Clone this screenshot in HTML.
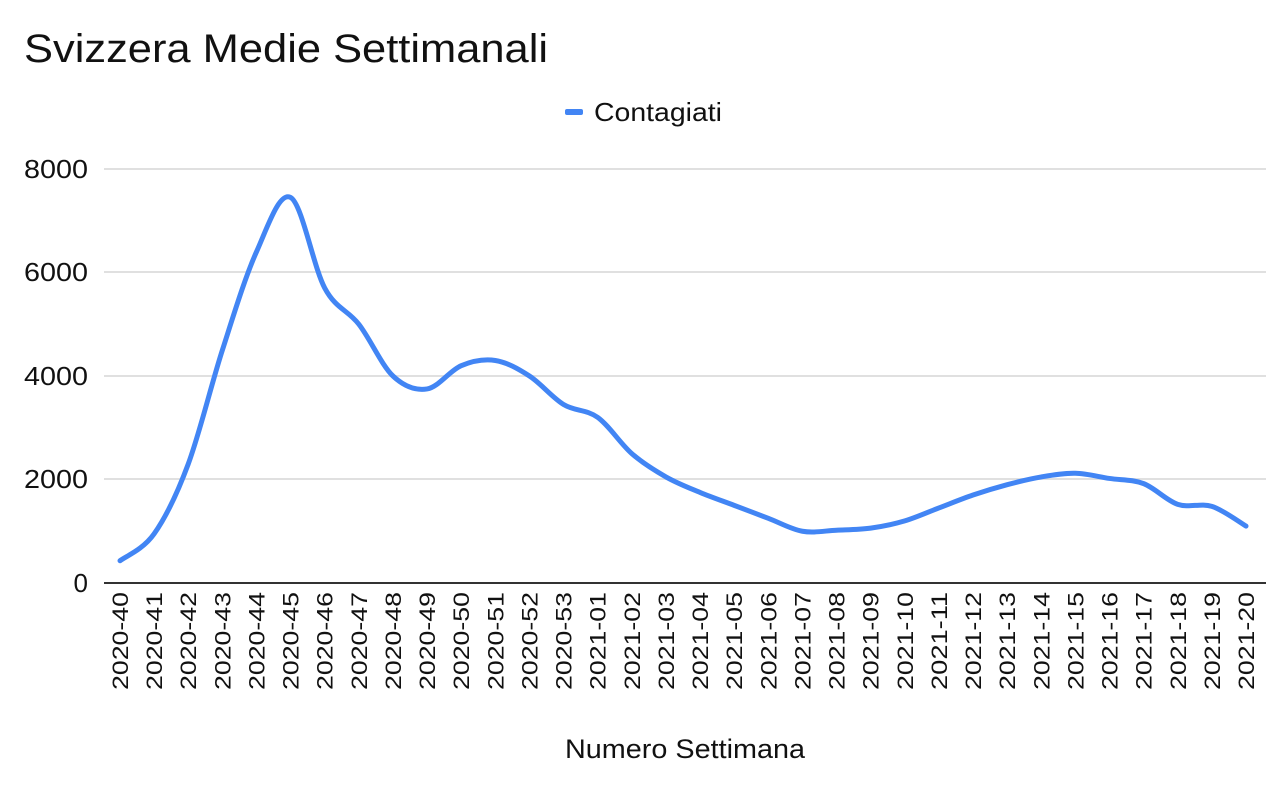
<!DOCTYPE html>
<html><head><meta charset="utf-8"><style>
html,body{margin:0;padding:0;background:#fff;}
svg text{font-family:"Liberation Sans",Arial,sans-serif;fill:#111;}
</style></head><body>
<svg id="c" width="1280" height="790" xmlns="http://www.w3.org/2000/svg">
<rect width="1280" height="790" fill="#fff"/>
<text x="24" y="62" font-size="40" textLength="524" lengthAdjust="spacingAndGlyphs">Svizzera Medie Settimanali</text>
<rect x="565" y="109" width="18" height="6" rx="2" fill="#4285f4"/>
<text x="594" y="121" font-size="26" textLength="128" lengthAdjust="spacingAndGlyphs">Contagiati</text>
<g stroke="#e0e0e0" stroke-width="2">
<line x1="104" x2="1266" y1="169" y2="169"/>
<line x1="104" x2="1266" y1="272" y2="272"/>
<line x1="104" x2="1266" y1="376" y2="376"/>
<line x1="104" x2="1266" y1="479" y2="479"/>
</g>
<line x1="104" x2="1266" y1="583" y2="583" stroke="#333" stroke-width="2"/>
<g font-size="26" text-anchor="end">
<text x="88" y="178" textLength="64" lengthAdjust="spacingAndGlyphs">8000</text>
<text x="88" y="281" textLength="64" lengthAdjust="spacingAndGlyphs">6000</text>
<text x="88" y="385" textLength="64" lengthAdjust="spacingAndGlyphs">4000</text>
<text x="88" y="488" textLength="64" lengthAdjust="spacingAndGlyphs">2000</text>
<text x="88" y="592">0</text>
</g>
<g id="lab" font-size="22"></g>
<path id="ln" fill="none" stroke="#4285f4" stroke-width="5" stroke-linejoin="round" stroke-linecap="round"/>
<text x="565" y="758" font-size="27" textLength="240" lengthAdjust="spacingAndGlyphs">Numero Settimana</text>
</svg>
<script>
var v=[430,950,2300,4500,6400,7450,5700,5000,4000,3750,4200,4300,4000,3450,3200,2500,2050,1750,1500,1250,1000,1020,1060,1200,1450,1700,1900,2050,2120,2020,1920,1520,1480,1100];
var labs=[];for(var w=40;w<=53;w++)labs.push("2020-"+w);for(var w=1;w<=20;w++)labs.push("2021-"+(w<10?"0"+w:w));
var x0=120,dx=(1246-120)/33;
var P=v.map(function(d,i){return [x0+i*dx,583-d*0.05175];});
var d="M"+P[0][0]+","+P[0][1];
for(var i=0;i<P.length-1;i++){var p0=P[i-1]||P[i],p1=P[i],p2=P[i+1],p3=P[i+2]||P[i+1];var t=6;
d+=" C"+(p1[0]+(p2[0]-p0[0])/t)+","+(p1[1]+(p2[1]-p0[1])/t)+" "+(p2[0]-(p3[0]-p1[0])/t)+","+(p2[1]-(p3[1]-p1[1])/t)+" "+p2[0]+","+p2[1];}
document.getElementById("ln").setAttribute("d",d);
var g=document.getElementById("lab"),h="";
labs.forEach(function(l,i){var x=x0+i*dx+8;h+='<text transform="translate('+x+',592) rotate(-90)" text-anchor="end" textLength="98" lengthAdjust="spacingAndGlyphs">'+l+'</text>';});
g.innerHTML=h;
</script>
</body></html>
